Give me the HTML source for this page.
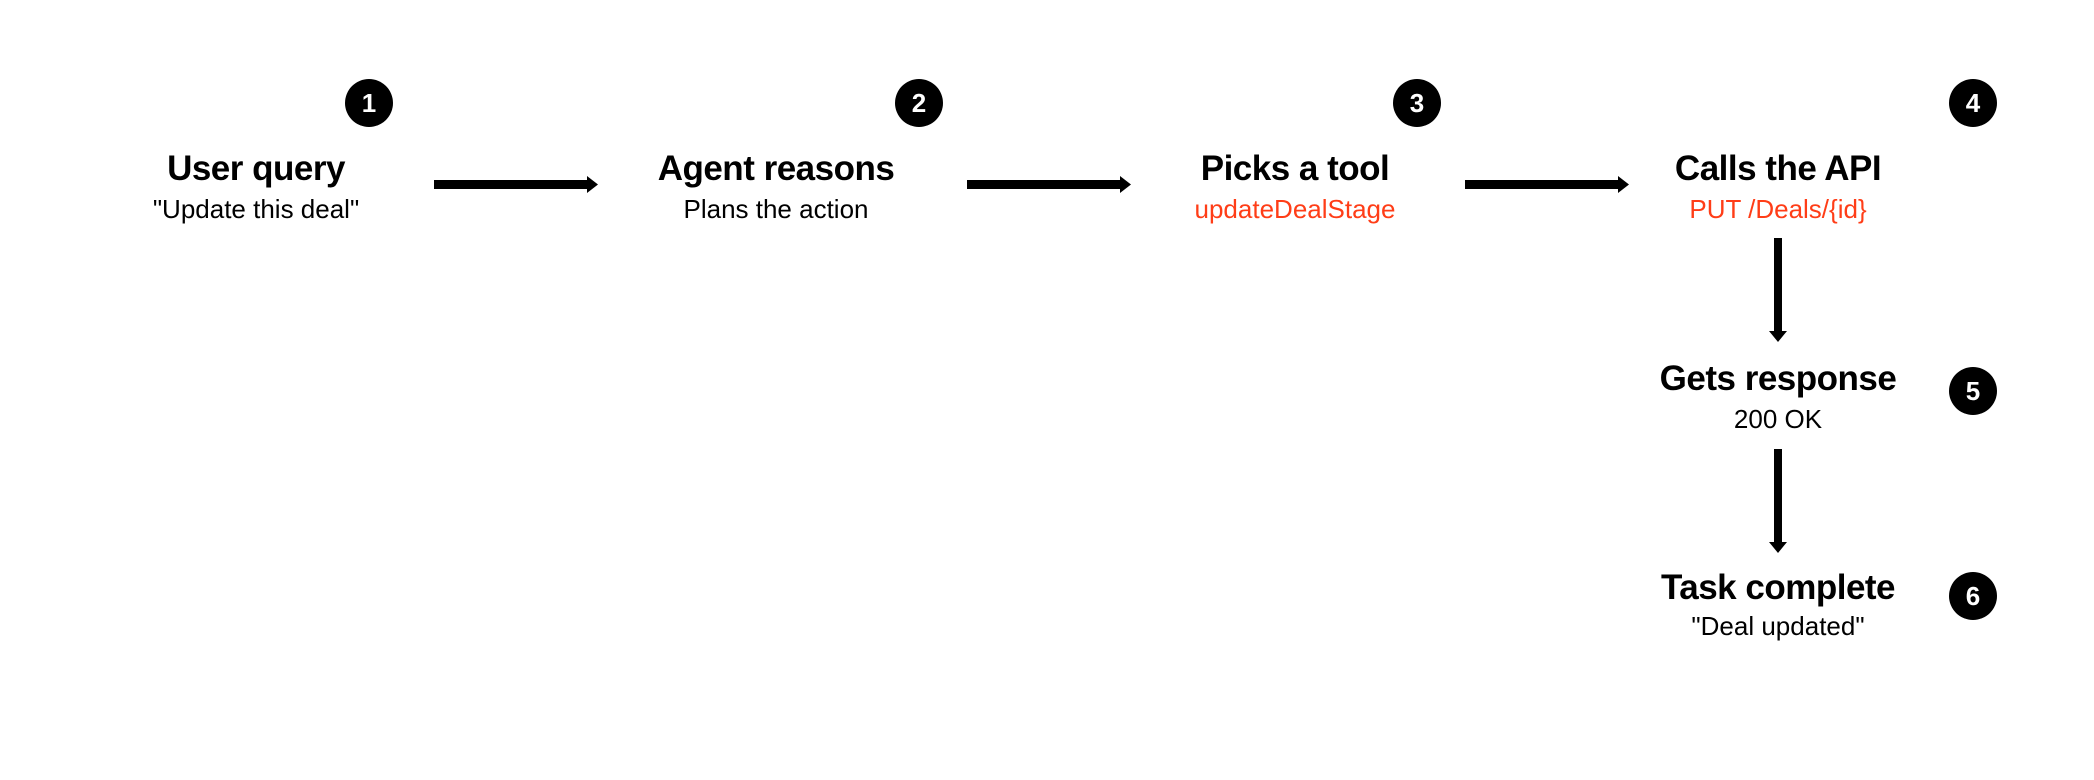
<!DOCTYPE html>
<html><head><style>
html,body{margin:0;padding:0;background:#fff;}
body{width:2094px;height:780px;position:relative;overflow:hidden;font-family:"Liberation Sans",sans-serif;}
.c{position:absolute;width:48px;height:48px;border-radius:50%;background:#000;color:#fff;font-weight:bold;font-size:26px;line-height:48px;text-align:center;}
.t{position:absolute;width:400px;text-align:center;font-weight:bold;font-size:35px;color:#000;letter-spacing:-0.5px;}
.s{position:absolute;width:400px;text-align:center;font-size:26px;color:#000;}
.r{color:#ff3d17;}
svg{position:absolute;left:0;top:0;}
</style></head><body>
<div class="c" style="left:345px;top:79px">1</div>
<div class="c" style="left:895px;top:79px">2</div>
<div class="c" style="left:1393px;top:79px">3</div>
<div class="c" style="left:1949px;top:79px">4</div>
<div class="c" style="left:1949px;top:367px">5</div>
<div class="c" style="left:1949px;top:572px">6</div>

<div class="t" style="left:56px;top:149px">User query</div>
<div class="s" style="left:56px;top:194px">"Update this deal"</div>
<div class="t" style="left:576px;top:149px">Agent reasons</div>
<div class="s" style="left:576px;top:194px">Plans the action</div>
<div class="t" style="left:1095px;top:149px">Picks a tool</div>
<div class="s r" style="left:1095px;top:194px">updateDealStage</div>
<div class="t" style="left:1578px;top:149px">Calls the API</div>
<div class="s r" style="left:1578px;top:194px">PUT /Deals/{id}</div>
<div class="t" style="left:1578px;top:359px">Gets response</div>
<div class="s" style="left:1578px;top:404px">200 OK</div>
<div class="t" style="left:1578px;top:568px">Task complete</div>
<div class="s" style="left:1578px;top:611px">"Deal updated"</div>

<svg width="2094" height="780">
<g fill="#000">
<rect x="434" y="180" width="154" height="9"/><polygon points="587,176 598,184.5 587,193"/>
<rect x="967" y="180" width="154" height="9"/><polygon points="1120,176 1131,184.5 1120,193"/>
<rect x="1465" y="180" width="154" height="9"/><polygon points="1618,176 1629,184.5 1618,193"/>
<rect x="1774" y="238" width="8" height="94"/><polygon points="1769,331 1778,342 1787,331"/>
<rect x="1774" y="449" width="8" height="94"/><polygon points="1769,542 1778,553 1787,542"/>
</g>
</svg>
</body></html>
